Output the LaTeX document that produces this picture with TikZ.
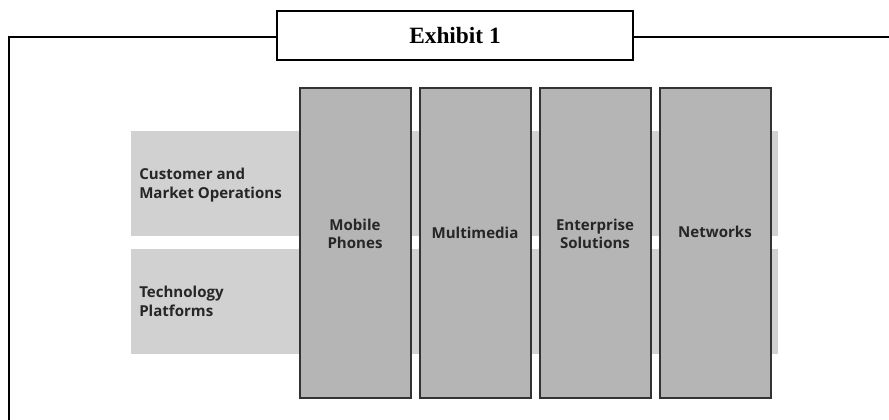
\documentclass[tikz,border=0pt]{standalone}
\usepackage{fontspec}
\setmainfont{Liberation Serif}
\setsansfont{Open Sans}
\begin{document}
\begin{tikzpicture}[x=0.75pt,y=-0.75pt,
  band/.style={draw=none,fill=black!18,minimum width=647*0.75pt,minimum height=105*0.75pt,inner sep=0pt,outer sep=0pt},
  column/.style={draw=black!80,line width=1.5pt,fill=black!29,minimum width=111*0.75pt,minimum height=310*0.75pt,inner sep=0pt,align=center,font=\sffamily\bfseries\fontsize{11.3}{13.8}\selectfont,text=black!85},
  bandtext/.style={anchor=west,align=left,inner sep=0pt,font=\sffamily\bfseries\fontsize{11.3}{14.2}\selectfont,text=black!85},
  titlebox/.style={draw,line width=1.5pt,fill=white,minimum width=356*0.75pt,minimum height=49*0.75pt,inner sep=0pt,font=\bfseries\fontsize{17.5}{20}\selectfont},
  frame/.style={line width=1.6pt}]
\useasboundingbox (0,0) rectangle (889,419);
% frame
\coordinate (fbl) at (9,425);
\coordinate (ftl) at (9,37);
\coordinate (ftr) at (895,37);
\draw[frame] (fbl) -- (ftl) -- (ftr);
\node[titlebox] (title) at (455,35.5) {Exhibit 1};
% bands
\node[band,anchor=north west] (cmo) at (131,131) {};
\node[band,anchor=north west] (tp) at (131,249) {};
\node[bandtext] (cmot) at (139,185) {Customer and\\Market Operations};
\node[bandtext] (tpt) at (139,301) {Technology\\Platforms};
% columns
\node[column,anchor=north west] (mob) at (299,87) {};
\node[column,anchor=north west] (mul) at (419,87) {};
\node[column,anchor=north west] (ent) at (539,87) {};
\node[column,anchor=north west] (net) at (659,87) {};
\node[column,draw=none,fill=none,minimum width=0pt,minimum height=0pt] (mobt) at (355,234) {Mobile\\Phones};
\node[column,draw=none,fill=none,minimum width=0pt,minimum height=0pt] (mult) at (475,233) {Multimedia};
\node[column,draw=none,fill=none,minimum width=0pt,minimum height=0pt] (entt) at (595,234) {Enterprise\\Solutions};
\node[column,draw=none,fill=none,minimum width=0pt,minimum height=0pt] (nett) at (715,232) {Networks};
\end{tikzpicture}
\end{document}
